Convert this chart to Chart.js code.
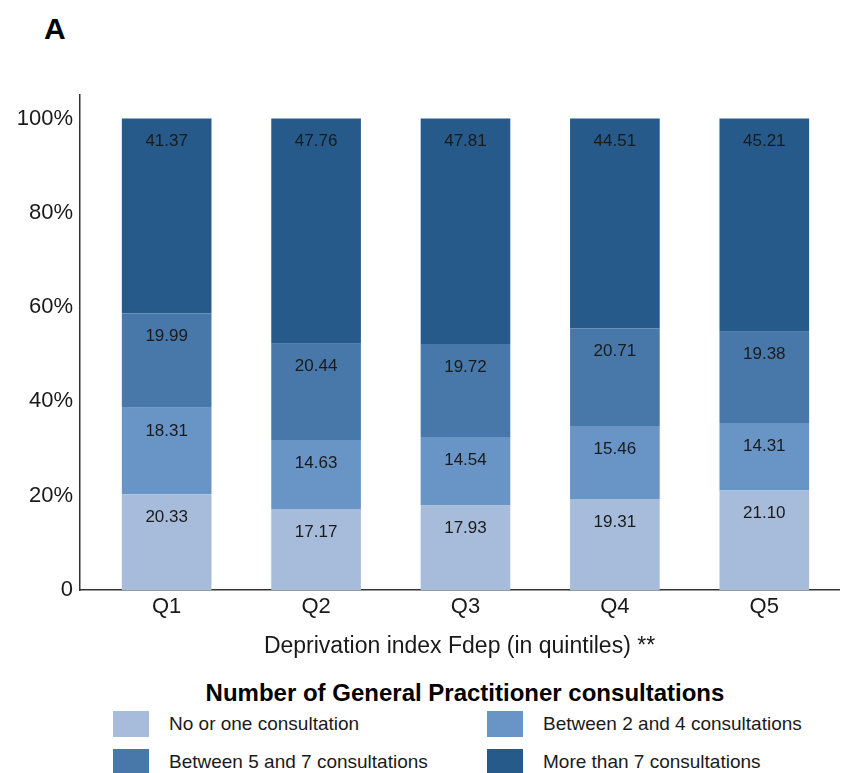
<!DOCTYPE html>
<html>
<head>
<meta charset="utf-8">
<script src="https://cdn.jsdelivr.net/npm/chart.js@4/dist/chart.umd.min.js"></script>
<style>
  body { margin:0; background:#fff; font-family:"Liberation Sans", Arial, sans-serif; }
  #wrap { position:relative; width:845px; height:773px; }
  #lbl { position:absolute; left:44px; top:12px; font-size:30px; font-weight:bold; color:#000; }
  #chartbox { position:absolute; left:0; top:0; width:845px; height:665px; }
  #legend { position:absolute; left:0; top:677px; width:930px; }
  #legtitle { text-align:center; font-weight:bold; font-size:24px; color:#000; height:32px; line-height:32px; }
  .item { position:absolute; display:flex; align-items:center; font-size:19px; color:#1a1a1a; }
  .box { width:36px; height:26px; margin-right:20px; }
</style>
</head>
<body>
<div id="wrap">
  <div id="lbl">A</div>
  <div id="chartbox"><canvas id="c" width="845" height="665"></canvas></div>
  <div id="legend"><div id="legtitle">Number of General Practitioner consultations</div></div>
</div>
<script>
const categories = ['Q1', 'Q2', 'Q3', 'Q4', 'Q5']
const seriesNames = ['No or one consultation', 'Between 2 and 4 consultations', 'Between 5 and 7 consultations', 'More than 7 consultations']
const noOrOne = [20.33, 17.17, 17.93, 19.31, 21.10]
const twoToFour = [18.31, 14.63, 14.54, 15.46, 14.31]
const fiveToSeven = [19.99, 20.44, 19.72, 20.71, 19.38]
const moreThanSeven = [41.37, 47.76, 47.81, 44.51, 45.21]
const yTicks = [0, 20, 40, 60, 80, 100]
const colors = ['#a7bcdb', '#6895c6', '#4878a9', '#255a8b']

const series = [noOrOne, twoToFour, fiveToSeven, moreThanSeven]
const font = '"Liberation Sans", Arial, sans-serif'

const datasets = series.map((vals, i) => ({
  label: seriesNames[i],
  data: vals.map((v, j) => ({ x: j + 1, y: v })),
  backgroundColor: colors[i],
  borderWidth: 0,
  barPercentage: 0.6,
  categoryPercentage: 1
}))

// legend (2 columns)
const legend = document.getElementById('legend')
const pos = [[113, 34], [487, 34], [113, 72], [487, 72]]
seriesNames.forEach((name, i) => {
  const d = document.createElement('div')
  d.className = 'item'
  d.style.left = pos[i][0] + 'px'
  d.style.top = pos[i][1] + 'px'
  d.innerHTML = '<div class="box" style="background:' + colors[i] + '"></div><span>' + name + '</span>'
  legend.appendChild(d)
})

const valueLabels = {
  id: 'valueLabels',
  afterDatasetsDraw(chart) {
    const ctx = chart.ctx
    ctx.save()
    ctx.font = '17px ' + font
    ctx.fillStyle = '#1a1a1a'
    ctx.textAlign = 'center'
    ctx.textBaseline = 'middle'
    chart.data.datasets.forEach((ds, i) => {
      chart.getDatasetMeta(i).data.forEach((el, j) => {
        ctx.fillText(ds.data[j].y.toFixed(2), el.x, el.y + 23)
      })
    })
    ctx.restore()
  }
}

new Chart(document.getElementById('c'), {
  type: 'bar',
  data: { datasets: datasets },
  plugins: [valueLabels],
  options: {
    responsive: false,
    animation: false,
    layout: { padding: { left: 0, right: 6, top: 95, bottom: 0 } },
    plugins: { legend: { display: false }, tooltip: { enabled: false } },
    scales: {
      x: {
        type: 'linear',
        stacked: true,
        offset: false,
        min: 0.42,
        max: 5.5,
        afterFit: (s) => { s.height = 75 },
        afterBuildTicks: (s) => { s.ticks = categories.map((c, i) => ({ value: i + 1 })) },
        grid: { display: false, drawTicks: false, offset: false },
        border: { display: true, color: '#333', width: 1.5 },
        ticks: {
          padding: 4,
          color: '#1a1a1a',
          font: { size: 22, family: font },
          callback: (v) => categories[Math.round(v) - 1]
        },
        title: {
          display: true,
          text: 'Deprivation index Fdep (in quintiles) **',
          color: '#1a1a1a',
          font: { size: 23, family: font },
          padding: { top: 2, bottom: 5 }
        }
      },
      y: {
        stacked: true,
        min: 0,
        max: 105,
        afterFit: (s) => { s.width = 80 },
        afterBuildTicks: (s) => { s.ticks = yTicks.map(v => ({ value: v })) },
        grid: { display: false, drawTicks: false },
        border: { display: true, color: '#333', width: 1.5 },
        ticks: {
          padding: 7,
          color: '#1a1a1a',
          font: { size: 22, family: font },
          callback: (v) => v === 0 ? '0' : v + '%'
        }
      }
    }
  }
})
</script>
</body>
</html>
